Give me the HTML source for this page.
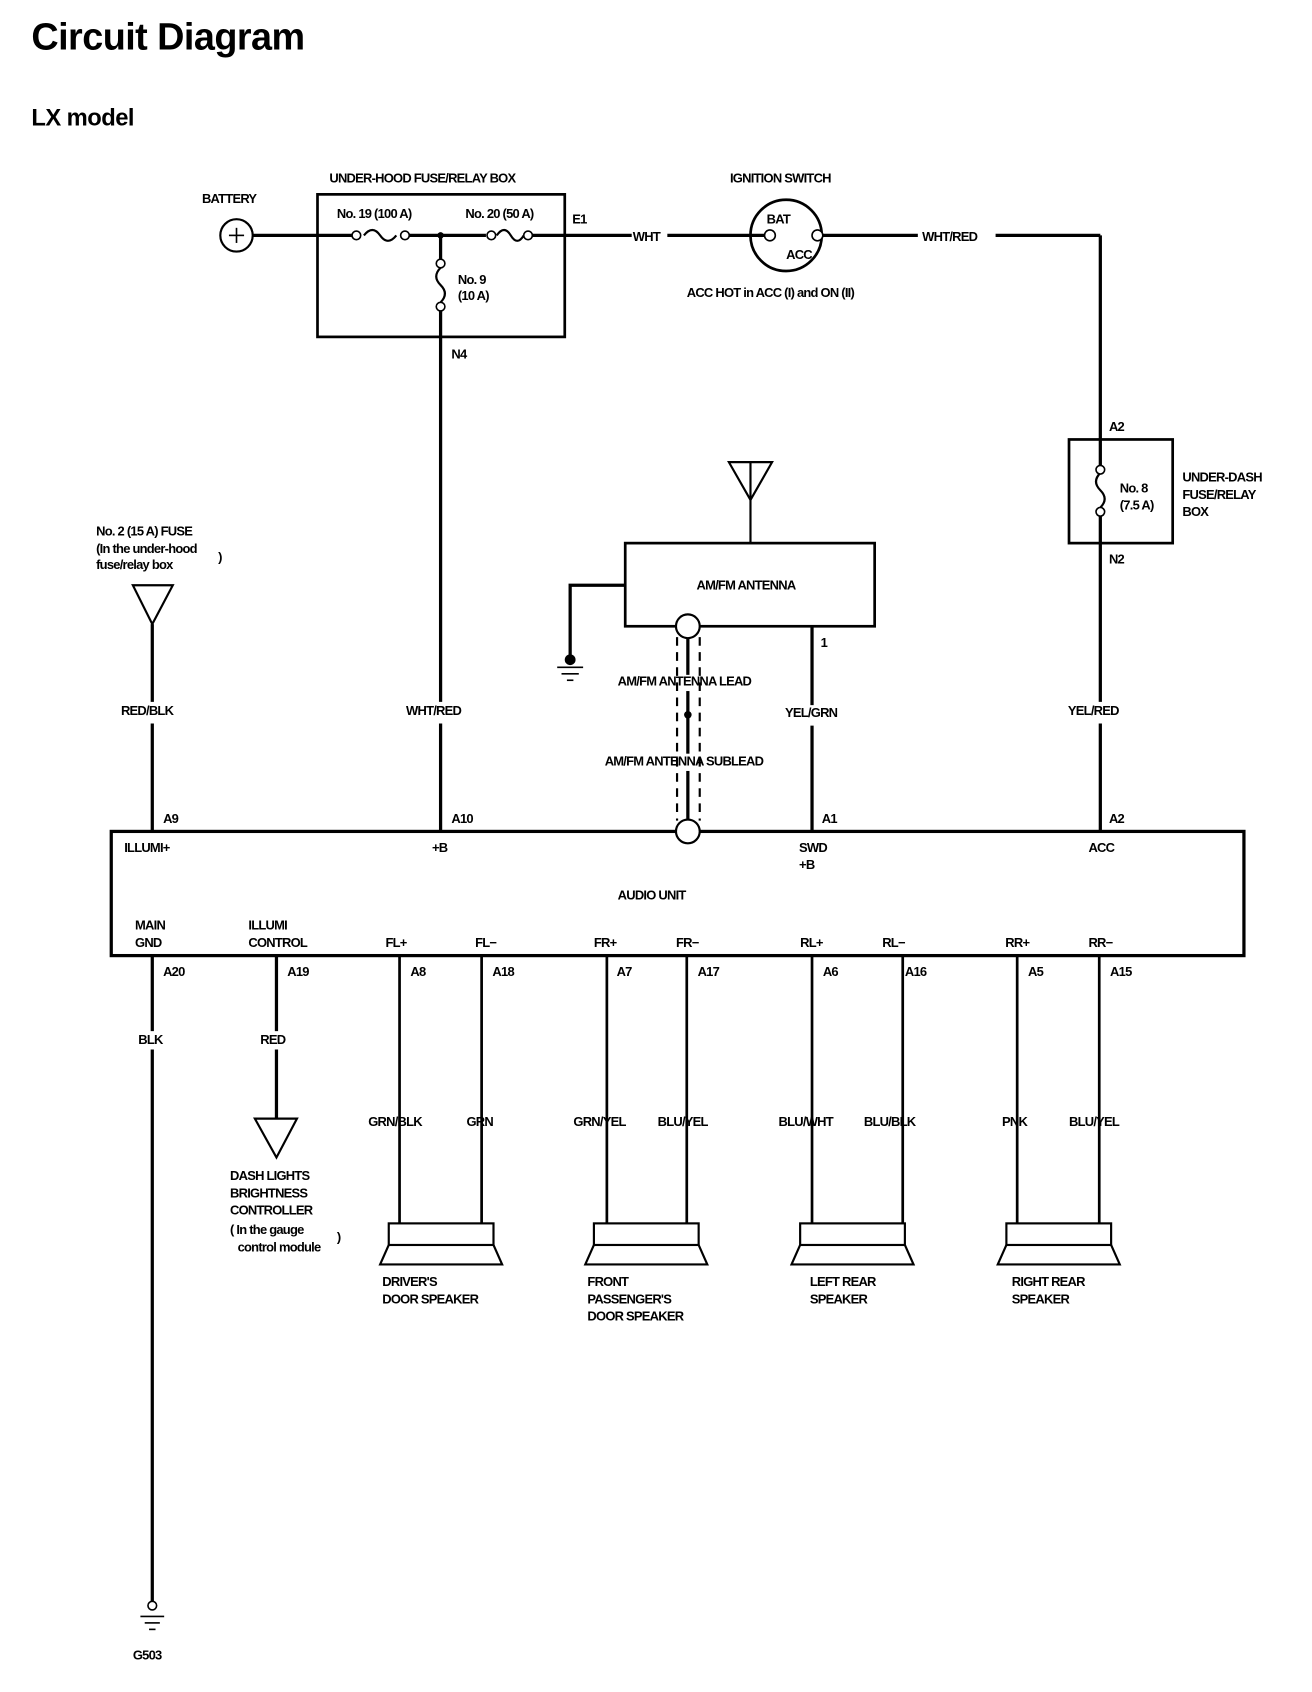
<!DOCTYPE html>
<html><head><meta charset="utf-8"><style>
html,body{margin:0;padding:0;background:#fff;}
svg{display:block;}
text{font-family:"Liberation Sans Narrow","Liberation Sans",sans-serif;font-weight:bold;fill:#000;font-size:12px;letter-spacing:-0.7px;}
</style></head><body>
<svg width="1312" height="1692" viewBox="0 0 1215 1567" xmlns="http://www.w3.org/2000/svg">
<text x="29" y="46" style="font-family:'Liberation Sans',sans-serif;font-size:35px;letter-spacing:-0.5px;">Circuit Diagram</text>
<text x="29" y="116" style="font-family:'Liberation Sans',sans-serif;font-size:22px;letter-spacing:-0.5px;">LX model</text>
<g stroke="#000" stroke-width="3" fill="none">
<circle cx="219" cy="218" r="15" stroke-width="2"/>
<line x1="234" y1="218" x2="328" y2="218"/>
<path d="M337 218 q8 -10 15 0 q7 10 15 0" stroke-width="2"/>
<line x1="375" y1="218" x2="450" y2="218"/>
<path d="M460 218 q7 -10 13 0 q6 10 12 0" stroke-width="2"/>
<line x1="489" y1="218" x2="585" y2="218"/>
<line x1="618" y1="218" x2="708" y2="218"/>
<line x1="762" y1="218" x2="850" y2="218"/>
<line x1="922" y1="218" x2="1019" y2="218"/>
<rect x="294" y="180" width="229" height="132" stroke-width="2.5"/>
<circle cx="728" cy="218" r="33" stroke-width="2.5"/>
<line x1="408" y1="218" x2="408" y2="242"/>
<path d="M408 248 q-8 8 0 16 q8 8 0 16" stroke-width="2"/>
<line x1="408" y1="286" x2="408" y2="650"/>
<line x1="408" y1="670" x2="408" y2="770"/>
<line x1="1019" y1="218" x2="1019" y2="432"/>
<path d="M1019 438 q-8 8 0 16 q8 8 0 16" stroke-width="2"/>
<line x1="1019" y1="476" x2="1019" y2="650"/>
<line x1="1019" y1="670" x2="1019" y2="770"/>
<rect x="990" y="407" width="96" height="96" stroke-width="2.5"/>
<path d="M675 428 L715 428 L695 463 Z" stroke-width="2"/>
<line x1="695" y1="428" x2="695" y2="503" stroke-width="2"/>
<rect x="579" y="503" width="231" height="77" stroke-width="2.5"/>
<polyline points="579,542 528,542 528,608"/>
<line x1="752" y1="580" x2="752" y2="653"/>
<line x1="752" y1="672" x2="752" y2="770"/>
<line x1="637" y1="591" x2="637" y2="625"/>
<line x1="637" y1="640" x2="637" y2="698"/>
<line x1="637" y1="714" x2="637" y2="759"/>
<line x1="627" y1="590" x2="627" y2="760" stroke-width="2" stroke-dasharray="8,6"/>
<line x1="648" y1="590" x2="648" y2="760" stroke-width="2" stroke-dasharray="8,6"/>
<path d="M123 542 L160 542 L141 578 Z" stroke-width="2"/>
<line x1="141" y1="578" x2="141" y2="650"/>
<line x1="141" y1="670" x2="141" y2="770"/>
<rect x="103" y="770" width="1049" height="115" stroke-width="3"/>
<line x1="141" y1="885" x2="141" y2="955"/>
<line x1="141" y1="972" x2="141" y2="1483"/>
<line x1="256" y1="885" x2="256" y2="955"/>
<line x1="256" y1="972" x2="256" y2="1035"/>
<path d="M236 1036 L275 1036 L256 1072 Z" stroke-width="2"/>
<g stroke-width="2.5">
<line x1="370" y1="885" x2="370" y2="1133"/><line x1="446" y1="885" x2="446" y2="1133"/>
<line x1="562" y1="885" x2="562" y2="1133"/><line x1="636" y1="885" x2="636" y2="1133"/>
<line x1="752" y1="885" x2="752" y2="1133"/><line x1="836" y1="885" x2="836" y2="1133"/>
<line x1="942" y1="885" x2="942" y2="1133"/><line x1="1018" y1="885" x2="1018" y2="1133"/>
</g>
<g stroke-width="2">
<rect x="360" y="1133" width="97" height="20"/><path d="M360 1153 L352 1171 L465 1171 L457 1153"/>
<rect x="550" y="1133" width="97" height="20"/><path d="M550 1153 L542 1171 L655 1171 L647 1153"/>
<rect x="741" y="1133" width="97" height="20"/><path d="M741 1153 L733 1171 L846 1171 L838 1153"/>
<rect x="932" y="1133" width="97" height="20"/><path d="M932 1153 L924 1171 L1037 1171 L1029 1153"/>
</g>
<circle cx="141" cy="1487" r="4" stroke-width="1.5"/>
<line x1="130" y1="1497" x2="152" y2="1497" stroke-width="1.5"/>
<line x1="134" y1="1503" x2="148" y2="1503" stroke-width="1.5"/>
<line x1="138" y1="1509" x2="144" y2="1509" stroke-width="1.5"/>
<line x1="516" y1="618" x2="540" y2="618" stroke-width="1.5"/>
<line x1="520" y1="624" x2="536" y2="624" stroke-width="1.5"/>
<line x1="525" y1="630" x2="531" y2="630" stroke-width="1.5"/>
</g>
<g fill="#fff" stroke="#000" stroke-width="1.5">
<circle cx="330" cy="218" r="4"/><circle cx="375" cy="218" r="4"/>
<circle cx="455" cy="218" r="4"/><circle cx="489" cy="218" r="4"/>
<circle cx="408" cy="244" r="4"/><circle cx="408" cy="284" r="4"/>
<circle cx="1019" cy="435" r="4"/><circle cx="1019" cy="474" r="4"/>
<circle cx="713" cy="218" r="5"/><circle cx="757" cy="218" r="5"/>
<circle cx="637" cy="580" r="11" stroke-width="2"/><circle cx="637" cy="770" r="11" stroke-width="2"/>
</g>
<circle cx="408" cy="218" r="3" fill="#000"/>
<circle cx="637" cy="662" r="3.5" fill="#000"/>
<circle cx="528" cy="611" r="5" fill="#000"/>
<line x1="212" y1="218" x2="226" y2="218" stroke="#000" stroke-width="1.5"/>
<line x1="219" y1="211" x2="219" y2="225" stroke="#000" stroke-width="1.5"/>

<g>
<text x="187" y="188">BATTERY</text>
<text x="305" y="169">UNDER-HOOD FUSE/RELAY BOX</text>
<text x="312" y="202">No. 19 (100 A)</text>
<text x="431" y="202">No. 20 (50 A)</text>
<text x="530" y="207">E1</text>
<text x="586" y="223">WHT</text>
<text x="424" y="263">No. 9</text>
<text x="424" y="278">(10 A)</text>
<text x="418" y="332">N4</text>
<text x="676" y="169">IGNITION SWITCH</text>
<text x="710" y="207">BAT</text>
<text x="728" y="240">ACC</text>
<text x="636" y="275">ACC HOT in ACC (I) and ON (II)</text>
<text x="854" y="223">WHT/RED</text>
<text x="1027" y="399">A2</text>
<text x="1037" y="456">No. 8</text>
<text x="1037" y="472">(7.5 A)</text>
<text x="1095" y="446">UNDER-DASH</text>
<text x="1095" y="462">FUSE/RELAY</text>
<text x="1095" y="478">BOX</text>
<text x="1027" y="522">N2</text>
<text x="645" y="546">AM/FM ANTENNA</text>
<text x="760" y="599">1</text>
<text x="572" y="635">AM/FM ANTENNA LEAD</text>
<text x="560" y="709">AM/FM ANTENNA SUBLEAD</text>
<text x="89" y="496">No. 2 (15 A) FUSE</text>
<text x="89" y="512">(In the under-hood</text>
<text x="89" y="527">fuse/relay box</text>
<text x="202" y="520">)</text>
<text x="112" y="662">RED/BLK</text>
<text x="376" y="662">WHT/RED</text>
<text x="727" y="664">YEL/GRN</text>
<text x="989" y="662">YEL/RED</text>
<text x="151" y="762">A9</text>
<text x="418" y="762">A10</text>
<text x="761" y="762">A1</text>
<text x="1027" y="762">A2</text>
<text x="115" y="789">ILLUMI+</text>
<text x="400" y="789">+B</text>
<text x="740" y="789">SWD</text>
<text x="740" y="805">+B</text>
<text x="1008" y="789">ACC</text>
<text x="572" y="833">AUDIO UNIT</text>
<text x="125" y="861">MAIN</text>
<text x="125" y="877">GND</text>
<text x="230" y="861">ILLUMI</text>
<text x="230" y="877">CONTROL</text>
<text x="357" y="877">FL+</text>
<text x="440" y="877">FL−</text>
<text x="550" y="877">FR+</text>
<text x="626" y="877">FR−</text>
<text x="741" y="877">RL+</text>
<text x="817" y="877">RL−</text>
<text x="931" y="877">RR+</text>
<text x="1008" y="877">RR−</text>
<text x="151" y="904">A20</text>
<text x="266" y="904">A19</text>
<text x="380" y="904">A8</text>
<text x="456" y="904">A18</text>
<text x="571" y="904">A7</text>
<text x="646" y="904">A17</text>
<text x="762" y="904">A6</text>
<text x="838" y="904">A16</text>
<text x="952" y="904">A5</text>
<text x="1028" y="904">A15</text>
<text x="128" y="967">BLK</text>
<text x="241" y="967">RED</text>
<text x="341" y="1043">GRN/BLK</text>
<text x="432" y="1043">GRN</text>
<text x="531" y="1043">GRN/YEL</text>
<text x="609" y="1043">BLU/YEL</text>
<text x="721" y="1043">BLU/WHT</text>
<text x="800" y="1043">BLU/BLK</text>
<text x="928" y="1043">PNK</text>
<text x="990" y="1043">BLU/YEL</text>
<text x="213" y="1093">DASH LIGHTS</text>
<text x="213" y="1109">BRIGHTNESS</text>
<text x="213" y="1125">CONTROLLER</text>
<text x="213" y="1143">( In the gauge</text>
<text x="220" y="1159">control module</text>
<text x="312" y="1150">)</text>
<text x="354" y="1191">DRIVER'S</text>
<text x="354" y="1207">DOOR SPEAKER</text>
<text x="544" y="1191">FRONT</text>
<text x="544" y="1207">PASSENGER'S</text>
<text x="544" y="1223">DOOR SPEAKER</text>
<text x="750" y="1191">LEFT REAR</text>
<text x="750" y="1207">SPEAKER</text>
<text x="937" y="1191">RIGHT REAR</text>
<text x="937" y="1207">SPEAKER</text>
<text x="123" y="1537">G503</text>
</g>
</svg>
</body></html>
